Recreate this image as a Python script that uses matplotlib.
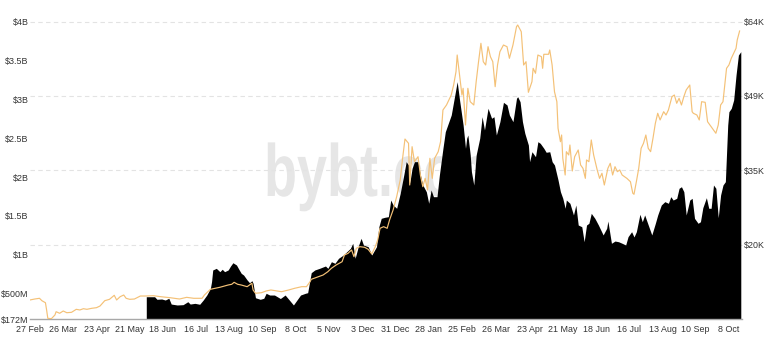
import matplotlib
matplotlib.use("Agg")
import matplotlib.pyplot as plt
import pandas as pd
from matplotlib.textpath import TextPath
from matplotlib.patches import PathPatch
from matplotlib.font_manager import FontProperties
from matplotlib.transforms import Affine2D

start = pd.Timestamp("2020-02-27")

# BTC price in thousand USD, by day number counted from the start date
price_day = [0, 4, 8, 10, 13, 14, 15, 18, 21, 22, 25, 28, 31, 35, 39, 42, 45, 48, 52, 56,
             59, 63, 67, 71, 73, 76, 79, 81, 84, 88, 93, 97, 104, 110, 118, 126, 132, 138, 145, 147,
             152, 156, 160, 164, 167, 170, 172, 175, 178, 183, 187, 188, 190, 195, 199, 203, 206, 212, 218, 223,
             229, 233, 236, 237, 243, 247, 251, 254, 258, 263, 265, 268, 271, 273, 275, 278, 282, 285, 288, 291,
             293, 295, 298, 301, 303, 306, 309, 312, 314, 316, 319, 320, 322, 324, 327, 329, 331, 333, 335, 337,
             339, 341, 344, 346, 348, 351, 353, 355, 357, 359, 360, 362, 364, 365, 367, 369, 371, 374, 376, 378,
             380, 382, 384, 386, 388, 390, 392, 394, 396, 399, 402, 404, 407, 410, 411, 414, 416, 418, 420, 423,
             424, 426, 428, 431, 432, 433, 437, 438, 440, 442, 444, 445, 447, 448, 449, 451, 452, 454, 455, 457,
             459, 462, 464, 466, 468, 469, 471, 473, 475, 478, 480, 482, 484, 487, 489, 491, 493, 495, 497, 499,
             503, 506, 508, 509, 511, 513, 515, 517, 519, 521, 523, 525, 527, 529, 531, 534, 536, 538, 541, 543,
             545, 547, 549, 551, 553, 556, 558, 559, 562, 564, 566, 569, 571, 573, 575, 578, 580, 582, 584, 587,
             589, 591, 593, 595, 596, 598]
price_k = [9.14, 9.33, 9.47, 9.0, 8.6, 7.17, 5.53, 5.45, 6.18, 6.83, 6.52, 6.97, 6.63, 6.71, 7.3, 7.17, 7.42, 7.3, 7.5, 7.62,
           7.95, 9.0, 9.27, 10.06, 9.14, 9.79, 10.12, 9.47, 9.27, 9.33, 9.92, 9.92, 9.98, 9.79, 9.59, 9.33, 9.66, 9.47, 9.47, 10.12,
           11.24, 11.44, 11.64, 11.89, 12.09, 12.23, 12.62, 12.23, 12.09, 11.76, 12.43, 11.11, 10.46, 10.57, 10.91, 11.11, 11.0, 10.77, 11.11, 11.44,
           11.76, 11.76, 12.74, 13.21, 13.73, 14.06, 14.71, 15.38, 16.03, 16.68, 18.0, 18.33, 18.99, 17.67, 19.32, 19.64, 19.52, 19.12, 18.2, 19.64,
           20.96, 23.26, 23.58, 23.26, 24.9, 26.87, 29.49, 32.78, 37.05, 40.85, 40.0, 31.79, 39.34, 36.38, 37.37, 33.76, 31.46, 33.1, 30.8, 37.05,
           33.1, 37.05, 38.35, 40.32, 46.57, 47.55, 48.54, 49.52, 51.49, 54.11, 57.4, 53.46, 49.52, 50.84, 43.61, 50.84, 48.2, 47.55, 52.14, 56.08,
           59.71, 56.08, 55.43, 59.04, 57.07, 56.08, 51.16, 55.43, 58.05, 59.37, 59.04, 56.75, 59.37, 62.98, 63.31, 61.99, 55.43, 56.08, 50.05, 52.14,
           54.78, 53.8, 57.4, 57.07, 54.78, 57.54, 57.54, 58.39, 55.43, 50.17, 48.2, 42.96, 40.32, 41.64, 37.05, 33.76, 38.35, 37.7, 39.67, 34.55,
           37.37, 38.69, 35.73, 35.08, 33.1, 36.72, 36.38, 40.66, 37.7, 34.75, 33.1, 34.1, 31.79, 35.08, 36.07, 33.76, 35.4, 34.41, 34.75, 33.76,
           33.1, 32.44, 30.16, 29.96, 32.44, 35.08, 39.02, 40.0, 41.64, 39.02, 38.35, 40.99, 43.95, 45.92, 44.6, 46.23, 45.58, 46.57, 49.19, 49.52,
           47.89, 48.87, 47.55, 49.19, 50.51, 51.49, 46.23, 45.92, 45.58, 44.6, 48.2, 48.08, 44.26, 43.61, 42.96, 41.98, 43.61, 47.55, 48.2, 54.78,
           55.43, 56.75, 57.74, 58.72, 60.36, 62.13]

# open interest in billion USD
oi_day = [98, 101, 105, 107, 111, 114, 117, 119, 124, 129, 133, 135, 139, 143, 146, 149, 152, 153, 154, 157,
          160, 162, 164, 167, 169, 171, 174, 176, 178, 180, 183, 185, 187, 188, 190, 194, 197, 199, 202, 206,
          211, 215, 219, 222, 225, 228, 232, 234, 237, 240, 244, 249, 251, 254, 257, 260, 264, 267, 270, 272,
          274, 277, 279, 281, 285, 288, 292, 294, 296, 299, 302, 304, 306, 309, 312, 315, 317, 319, 320, 322,
          324, 327, 329, 331, 334, 336, 338, 340, 343, 345, 348, 350, 352, 355, 358, 360, 362, 365, 367, 368,
          369, 371, 372, 374, 376, 379, 381, 383, 386, 389, 391, 393, 396, 399, 402, 404, 407, 410, 411, 413,
          415, 417, 420, 421, 423, 426, 428, 430, 433, 435, 438, 440, 442, 445, 447, 449, 451, 452, 455, 458,
          460, 462, 465, 467, 469, 471, 473, 476, 479, 481, 483, 486, 487, 490, 493, 496, 499, 502, 504, 507,
          509, 511, 514, 516, 518, 521, 524, 527, 529, 532, 535, 538, 540, 542, 545, 547, 549, 551, 553, 556,
          558, 560, 563, 565, 567, 570, 572, 574, 576, 578, 580, 582, 584, 586, 588, 589, 591, 593, 595, 597,
          599]
oi_b = [0.462, 0.462, 0.462, 0.429, 0.433, 0.420, 0.442, 0.368, 0.356, 0.360, 0.398, 0.368, 0.377, 0.365, 0.420, 0.484, 0.570, 0.655, 0.806, 0.827,
        0.784, 0.815, 0.784, 0.806, 0.857, 0.899, 0.870, 0.815, 0.763, 0.741, 0.677, 0.642, 0.668, 0.634, 0.449, 0.429, 0.442, 0.506, 0.484, 0.484,
        0.439, 0.484, 0.411, 0.356, 0.420, 0.484, 0.506, 0.514, 0.771, 0.806, 0.827, 0.857, 0.827, 0.912, 0.892, 0.956, 0.998, 1.041, 1.084, 1.149,
        0.956, 1.127, 1.213, 1.127, 1.105, 0.998, 1.105, 1.362, 1.470, 1.483, 1.491, 1.705, 1.641, 1.599, 1.792, 2.027, 2.198, 2.155, 1.920, 2.113,
        2.198, 2.198, 2.027, 1.898, 1.812, 1.663, 1.834, 1.748, 1.748, 2.027, 2.370, 2.583, 2.669, 2.798, 3.055, 3.226, 2.991, 2.669, 2.370, 2.499,
        2.541, 2.284, 2.069, 1.898, 2.284, 2.499, 2.776, 2.605, 2.884, 2.756, 2.776, 2.541, 2.712, 2.961, 2.927, 2.798, 2.712, 3.013, 3.033, 2.969,
        2.712, 2.563, 2.412, 2.198, 2.326, 2.262, 2.455, 2.434, 2.370, 2.319, 2.326, 2.198, 2.155, 1.962, 1.812, 1.727, 1.599, 1.705, 1.663, 1.513,
        1.641, 1.384, 1.362, 1.169, 1.384, 1.406, 1.534, 1.470, 1.384, 1.320, 1.256, 1.342, 1.435, 1.149, 1.178, 1.169, 1.149, 1.127, 1.234, 1.298,
        1.230, 1.298, 1.522, 1.426, 1.513, 1.384, 1.256, 1.406, 1.513, 1.641, 1.684, 1.663, 1.748, 1.705, 1.727, 1.856, 1.876, 1.812, 1.513, 1.705,
        1.727, 1.470, 1.406, 1.426, 1.606, 1.735, 1.599, 1.599, 1.898, 1.856, 1.478, 1.770, 1.898, 1.941, 2.669, 2.840, 2.884, 2.991, 3.312, 3.569,
        3.612]

tick_dates = ["2020-02-27", "2020-03-26", "2020-04-23", "2020-05-21", "2020-06-18", "2020-07-16",
              "2020-08-13", "2020-09-10", "2020-10-08", "2020-11-05", "2020-12-03", "2020-12-31",
              "2021-01-28", "2021-02-25", "2021-03-26", "2021-04-23", "2021-05-21", "2021-06-18",
              "2021-07-16", "2021-08-13", "2021-09-10", "2021-10-08"]

oi_ticks = [0.172, 0.5, 1.0, 1.5, 2.0, 2.5, 3.0, 3.5, 4.0]
oi_labels = ["$172M", "$500M", "$1B", "$1.5B", "$2B", "$2.5B", "$3B", "$3.5B", "$4B"]
price_lim = (5.333, 64.0)
price_ticks = [20.0, 34.667, 49.333, 64.0]
price_labels = ["$20K", "$35K", "$49K", "$64K"]

plt.rcParams['font.family'] = ['Liberation Sans', 'DejaVu Sans']

price_dates = start + pd.to_timedelta(price_day, unit="D")
oi_dates = start + pd.to_timedelta(oi_day, unit="D")

fig = plt.figure(figsize=(7.68, 3.38), dpi=100)
ax = fig.add_axes([30 / 768, 1 - 319.3 / 338, 711.5 / 768, 297.8 / 338])
ax2 = ax.twinx()

# dashed grid follows the right-hand (price) ticks
for t in price_ticks:
    frac = (t - price_lim[0]) / (price_lim[1] - price_lim[0])
    ax.plot([0, 1], [frac, frac], transform=ax.transAxes, color='#e3e3e3',
            lw=0.8, ls=(0, (4, 3)), zorder=0.8, clip_on=False)

# condensed watermark behind the data
tp = TextPath((0, 0), "bybt.com", size=1,
              prop=FontProperties(family='Liberation Sans', weight='bold'))
wm = PathPatch(tp, transform=Affine2D().scale(54, 74).translate(264, 338 - 196),
               facecolor='#e6e6e6', edgecolor='none', zorder=0.5)
ax.add_patch(wm)

ax.fill_between(oi_dates, oi_b, 0, color='black', lw=0, zorder=2)
ax2.plot(price_dates, price_k, color='#f4c177', lw=0.85, zorder=3)

ax.set_xlim(start, start + pd.Timedelta(days=599.6))
ax.set_ylim(oi_ticks[0], oi_ticks[-1])
ax2.set_ylim(*price_lim)

ax.set_yticks(oi_ticks)
ax.set_yticklabels(oi_labels)
ax2.set_yticks(price_ticks)
ax2.set_yticklabels(price_labels)
td = pd.to_datetime(tick_dates)
ax.set_xticks(td)
ax.set_xticklabels([f"{d.day} {d.strftime('%b')}" for d in td])

ax.tick_params(axis='y', length=0, pad=1, labelsize=6.4, labelcolor='#333333')
ax2.tick_params(axis='y', length=0, pad=1.5, labelsize=6.4, labelcolor='#333333')
ax.tick_params(axis='x', length=0, pad=3.8, labelsize=6.4, labelcolor='#333333')

for a in (ax, ax2):
    for s in a.spines.values():
        s.set_visible(False)
ax.spines['bottom'].set_visible(True)
ax.spines['bottom'].set_color('#a8a8a8')
ax.spines['bottom'].set_linewidth(1.0)

fig.savefig("out.png", dpi=100)
